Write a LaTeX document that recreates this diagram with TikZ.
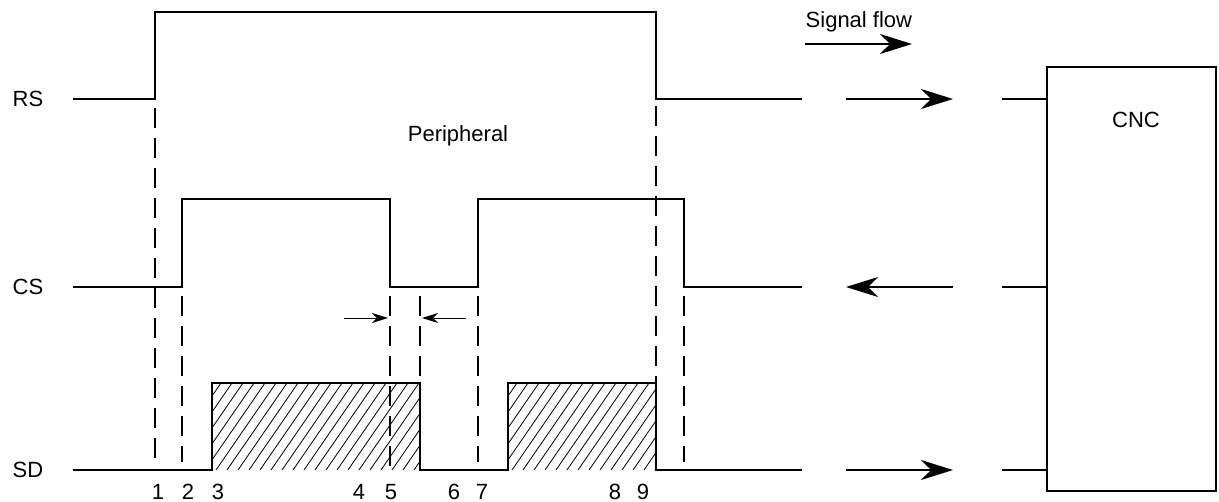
\documentclass[tikz,border=0pt]{standalone}
\usepackage{fontspec}
\setmainfont{Liberation Sans}
\usetikzlibrary{arrows.meta}
\begin{document}
\begin{tikzpicture}[x=0.5pt, y=-0.5pt, line width=0.7pt,
  font=\fontsize{11}{13}\selectfont,
  guide/.style={dash pattern=on 10pt off 5pt, line width=0.6pt},
  flow/.style={-{Stealth[length=16pt, width=10pt, inset=5pt]}},
  gaparrow/.style={line width=0.5pt, -{Stealth[length=8pt, width=5pt, inset=2.5pt]}},
  hatch/.style={line width=0.4pt}]
\useasboundingbox (0,0) rectangle (1219,502);
% hatched data blocks
\begin{scope}
\clip (212,383) rectangle (420,470);
\foreach \x in {150,161,...,430} \draw[hatch] (\x,470) -- ++(60,-87);
\end{scope}
\begin{scope}
\clip (508,383) rectangle (656,470);
\foreach \x in {446,457,...,666} \draw[hatch] (\x,470) -- ++(60,-87);
\end{scope}
% signal names
\node (rs) at (28,99) {RS};
\node (cs) at (28,287) {CS};
\node (sd) at (28,470) {SD};
% waveforms
\draw (rs.east) ++(22,0) -- (155,99) -- (155,12) -- (656,12) -- (656,99) -- (802,99);
\draw (cs.east) ++(22,0) -| (182,199) -| (390,287) -| (478,199) -| (684,287) -- (802,287);
\draw (sd.east) ++(22,0) -| (212,383) -| (420,470) -| (508,383) -| (656,470) -- (802,470);
% timing guides
\draw[guide] (155,108) -- (155,462);
\draw[guide] (182,296) -- (182,462);
\draw[guide] (390,296) -- (390,470);
\draw[guide] (420,296) -- (420,383);
\draw[guide] (478,296) -- (478,462);
\draw[guide] (656,106) -- (656,383);
\draw[guide] (684,296) -- (684,462);
% minimum gap
\coordinate (gapl) at (344,318);
\coordinate (gapr) at (466,318);
\draw[gaparrow] (gapl) -- (388,318);
\draw[gaparrow] (gapr) -- (422,318);
% time points
\foreach \x/\n in {158/1,188/2,218/3,359/4,391/5,454/6,482/7,615/8,643/9}
  \node (t\n) at (\x,492) {\n};
\node (periph) at (458,136) {Peripheral};
% direction of transfer
\node[anchor=base west, inner sep=0pt] (flowlbl) at (805,28) {Signal flow};
\coordinate (flowtail) at (805,44);
\coordinate (flowtip) at (912,44);
\draw[flow] (flowtail) -- (flowtip);
\node[draw, inner sep=0pt, minimum width=84.5pt, minimum height=212pt] (cnc) at (1131.5,279) {};
\node (cnctxt) at (1136,120) {CNC};
\coordinate (rsout) at (846,99);
\coordinate (rsin) at (953,99);
\coordinate (csout) at (953,287);
\coordinate (csin) at (846,287);
\coordinate (sdout) at (846,470);
\coordinate (sdin) at (953,470);
\draw[flow] (rsout) -- (rsin);
\draw[flow] (csout) -- (csin);
\draw[flow] (sdout) -- (sdin);
\draw (1002,99) -- (cnc.west |- rsin);
\draw (1002,287) -- (cnc.west |- csout);
\draw (1002,470) -- (cnc.west |- sdin);
\end{tikzpicture}
\end{document}
